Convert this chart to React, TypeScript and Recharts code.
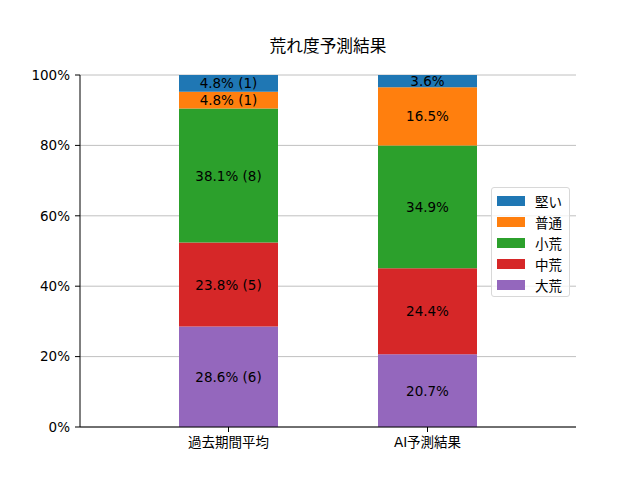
import { Bar, BarChart, CartesianGrid, LabelList, XAxis, YAxis } from 'recharts';

const categories = ['過去期間平均', 'AI予測結果'];
// stack order bottom -> top
const seriesNames = ['大荒', '中荒', '小荒', '普通', '堅い'];
const seriesColors = ['#9467bd', '#d62728', '#2ca02c', '#ff7f0e', '#1f77b4'];
const daikou = [28.57, 20.7];
const chukou = [23.81, 24.4];
const shoukou = [38.1, 34.9];
const futsuu = [4.76, 16.5];
const katai = [4.76, 3.6];
// race counts only known for the past-period bar
const pastCounts = [6, 5, 8, 1, 1];
const yTicks = [0, 20, 40, 60, 80, 100];

const FONT = '"DejaVu Sans", "Noto Sans CJK JP", sans-serif';
const keys = ['s0', 's1', 's2', 's3', 's4'];
const seriesValues = [daikou, chukou, shoukou, futsuu, katai];

const data = categories.map((name, i) => {
  const row: Record<string, string | number> = { name };
  seriesValues.forEach((vals, k) => {
    row[keys[k]] = vals[i];
  });
  return row;
});

function LegendBox() {
  const items = seriesNames.map((n, i) => ({ n, c: seriesColors[i] })).reverse();
  return (
    <div
      style={{
        position: 'absolute',
        left: 491,
        top: 187,
        width: 79,
        height: 110,
        boxSizing: 'border-box',
        border: '1px solid #d8d8d8',
        borderRadius: 3,
        background: 'rgba(255,255,255,0.8)',
        padding: '2px 0 0 5px',
        fontFamily: FONT,
        fontSize: 13.5,
      }}
    >
      {items.map((it) => (
        <div key={it.n} style={{ display: 'flex', alignItems: 'center', height: 21 }}>
          <span style={{ display: 'inline-block', width: 28, height: 10, background: it.c, marginRight: 10 }} />
          <span>{it.n}</span>
        </div>
      ))}
    </div>
  );
}

export default function App() {
  return (
    <div style={{ position: 'absolute', left: 0, top: 0, width: 640, height: 480, background: '#fff' }}>
      <div
        style={{
          position: 'absolute',
          left: 80,
          width: 496,
          top: 33,
          textAlign: 'center',
          fontFamily: FONT,
          fontSize: 16.7,
          color: '#000',
        }}
      >
        荒れ度予測結果
      </div>
      <BarChart
        width={640}
        height={480}
        data={data}
        margin={{ top: 75, right: 64, bottom: 0, left: 0 }}
        style={{ fontFamily: FONT }}
      >
        <CartesianGrid vertical={false} stroke="#b0b0b0" strokeWidth={0.8} />
        <XAxis
          dataKey="name"
          height={53}
          padding={{ left: 49, right: 49 }}
          stroke="#000"
          tickSize={5}
          tickMargin={5}
          tick={{ fill: '#000', fontSize: 13.5 }}
        />
        <YAxis
          width={80}
          type="number"
          domain={[0, 100]}
          ticks={yTicks}
          allowDataOverflow
          tickFormatter={(v) => `${v}%`}
          stroke="#000"
          tickSize={5}
          tickMargin={5}
          tick={{ fill: '#000', fontSize: 13.5 }}
        />
        <XAxis xAxisId="top" orientation="top" dataKey="name" height={0} tick={false} tickLine={false} stroke="#000" />
        <YAxis yAxisId="right" orientation="right" width={0} domain={[0, 100]} tick={false} tickLine={false} stroke="#000" />
        {keys.map((k, idx) => (
          <Bar key={k} dataKey={k} stackId="a" fill={seriesColors[idx]} barSize={99} isAnimationActive={false}>
            <LabelList
              dataKey={k}
              content={(props: any) => {
                const { x, y, width, height, value, index } = props;
                const pct = Number(value).toFixed(1) + '%';
                const text = index === 0 ? `${pct} (${pastCounts[idx]})` : pct;
                return (
                  <text
                    x={x + width / 2}
                    y={y + height / 2}
                    textAnchor="middle"
                    dominantBaseline="central"
                    fill="#000"
                    fontSize={13.5}
                    fontFamily={FONT}
                  >
                    {text}
                  </text>
                );
              }}
            />
          </Bar>
        ))}
      </BarChart>
      <LegendBox />
    </div>
  );
}
